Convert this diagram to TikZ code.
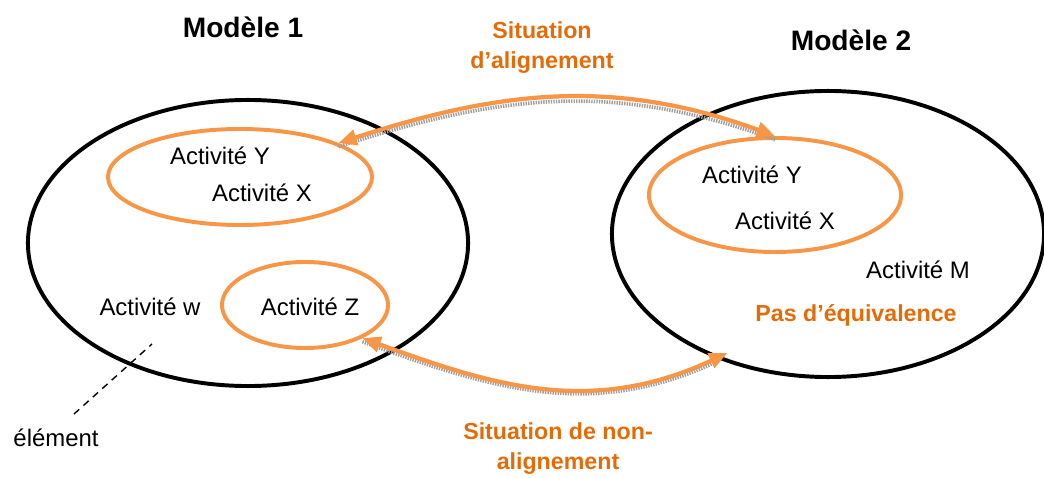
\documentclass[tikz,border=0pt]{standalone}
\usepackage{fontspec}
\setmainfont{Liberation Sans}
\usepackage{tikz}
\usetikzlibrary{arrows,arrows.meta,calc,shapes.geometric}
\definecolor{accent}{HTML}{F79646}
\definecolor{accenttext}{HTML}{E36C09}

\begin{document}
\begin{tikzpicture}[x=0.025cm, y=-0.025cm,
    model/.style={draw=black, line width=2.8pt, ellipse, inner sep=0pt},
    group/.style={draw=accent, line width=2.8pt, ellipse, inner sep=0pt},
    act/.style={font=\fontsize{17}{20}\selectfont},
    title/.style={font=\bfseries\fontsize{20}{24}\selectfont},
    note/.style={font=\bfseries\fontsize{16.5}{21.3}\selectfont, text=accenttext, align=center},
    link/.style={draw=accent, line width=3pt, {Triangle[length=13pt,width=11pt]}-{Triangle[length=13pt,width=11pt]}},
    linkshadow/.style={draw=gray!75, dash pattern=on 1pt off 0.8pt, line width=2.6pt}]
    %%Background
    \useasboundingbox (0,0) rectangle (1044,478);

    %%Models
    \node[model, minimum width=11cm, minimum height=7.15cm] (mod1) at (248,243) {};
    \node[model, minimum width=10.8cm, minimum height=7.15cm] (mod2) at (828,234) {};

    %%Groups
    \node[group, minimum width=6.6cm, minimum height=2.4cm] (yx1) at (240,177) {};
    \node[group, minimum width=4.15cm, minimum height=2.15cm] (z1) at (305,305) {};
    \node[group, minimum width=6.3cm, minimum height=2.85cm] (yx2) at (775,195) {};

    %%Titles
    \node[title] (title1) at (243,27) {Modèle 1};
    \node[title] (title2) at (851,40) {Modèle 2};

    %%Activities
    \node[act] (ay1) at (220,156) {Activité Y};
    \node[act] (ax1) at (262,193) {Activité X};
    \node[act] (aw1) at (150,307) {Activité w};
    \node[act] (az1) at (310,307) {Activité Z};
    \node[act] (ay2) at (752,175) {Activité Y};
    \node[act] (ax2) at (785,221) {Activité X};
    \node[act] (am2) at (918,270) {Activité M};
    \node[note] (noeq) at (856,315) {Pas d’équivalence};

    %%Situations
    \node[note] (align) at (542,48) {Situation\\d’alignement};
    \node[note] (nonalign) at (558,449) {Situation de non-\\alignement};

    \draw[linkshadow, transform canvas={yshift=-0.9mm}] (yx1.19) to[out=18,in=160] (yx2.north);
    \draw[link] (yx1.19) to[out=18,in=160] (yx2.north);
    \draw[linkshadow, transform canvas={yshift=-0.9mm}] (z1.-30) to[out=-20,in=205] (mod2.228);
    \draw[link, shorten >=-9pt] (z1.-30) to[out=-20,in=205] (mod2.228);

    %%Note
    \node[act] (elem) at (56,438) {élément};
    \coordinate (elemtop) at (152,344);
    \coordinate (elemfoot) at (74,414);
    \draw[line width=1pt, dash pattern=on 5pt off 4pt] (elemfoot) -- (elemtop);

\end{tikzpicture}
\end{document}
